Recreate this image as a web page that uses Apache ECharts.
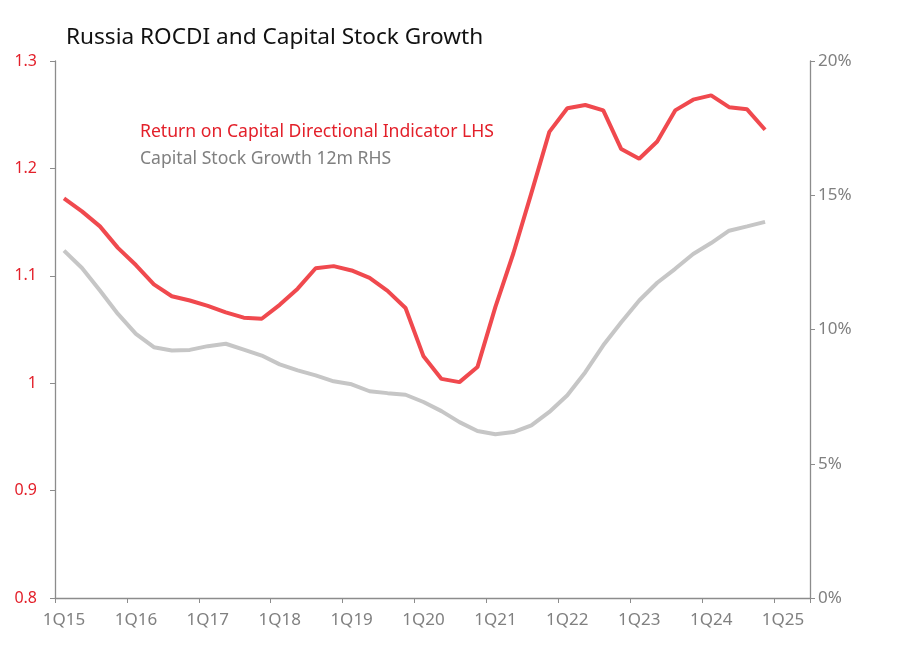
<!DOCTYPE html>
<html>
<head>
<meta charset="utf-8">
<script src="https://cdn.jsdelivr.net/npm/echarts@6/dist/echarts.min.js"></script>
<style>
html,body{margin:0;padding:0;background:#fff;}
#chart{width:908px;height:658px;}
</style>
</head>
<body>
<div id="chart"></div>
<script>
// Quarterly categories 1Q15 .. 2Q25 (last two empty)
const categories = [];
for (let y = 15; y <= 25; y++) {
  for (let q = 1; q <= 4; q++) {
    if (y === 25 && q > 2) break;
    categories.push(q + 'Q' + y);
  }
}

const rocdi = [
  1.172, 1.160, 1.146, 1.126, 1.110, 1.092, 1.081, 1.077, 1.072, 1.066,
  1.061, 1.060, 1.073, 1.088, 1.107, 1.109, 1.105, 1.098, 1.086, 1.070,
  1.025, 1.004, 1.001, 1.015, 1.071, 1.121, 1.177, 1.234, 1.256, 1.259,
  1.254, 1.218, 1.209, 1.225, 1.254, 1.264, 1.268, 1.257, 1.255, 1.236
];

const capitalStock = [
  12.94, 12.29, 11.45, 10.58, 9.84, 9.34, 9.22, 9.24, 9.38, 9.47,
  9.25, 9.03, 8.70, 8.48, 8.29, 8.07, 7.96, 7.70, 7.63, 7.57,
  7.30, 6.96, 6.55, 6.22, 6.10, 6.18, 6.43, 6.93, 7.55, 8.41,
  9.41, 10.27, 11.08, 11.74, 12.26, 12.81, 13.22, 13.68, 13.84, 14.01
];

const titleText = 'Russia ROCDI and Capital Stock Growth';
const legendRed = 'Return on Capital Directional Indicator LHS';
const legendGray = 'Capital Stock Growth 12m RHS';

const FONT = 'Noto Sans';
const AXIS_COLOR = '#8c8c8c';
const RED_TEXT = '#e3202a';
const GRAY_TEXT = '#808080';

const chart = echarts.init(document.getElementById('chart'));
chart.setOption({
  backgroundColor: '#fff',
  animation: false,
  textStyle: { fontFamily: FONT },
  title: {
    text: titleText,
    left: 61, top: 21,
    textStyle: { fontFamily: FONT, fontSize: 22.6, fontWeight: 'normal', color: '#111' }
  },
  graphic: [
    { type: 'text', left: 140, top: 123,
      style: { text: legendRed, fill: RED_TEXT, font: '17.6px "Noto Sans"' } },
    { type: 'text', left: 140, top: 150,
      style: { text: legendGray, fill: GRAY_TEXT, font: '17.6px "Noto Sans"' } }
  ],
  grid: { left: 55, right: 98, top: 61, bottom: 60, containLabel: false },
  xAxis: {
    type: 'category',
    data: categories,
    boundaryGap: true,
    axisLine: { lineStyle: { color: AXIS_COLOR, width: 1.3 } },
    axisTick: { show: true, interval: 3, length: 5, lineStyle: { color: AXIS_COLOR } },
    axisLabel: { interval: 3, color: GRAY_TEXT, fontSize: 17, margin: 14, fontFamily: FONT },
    splitLine: { show: false }
  },
  yAxis: [
    {
      type: 'value', min: 0.8, max: 1.3, interval: 0.1, position: 'left',
      axisLine: { show: true, lineStyle: { color: AXIS_COLOR, width: 1.3 } },
      axisTick: { show: true, length: 5, lineStyle: { color: AXIS_COLOR } },
      axisLabel: { color: RED_TEXT, fontSize: 16, margin: 18, fontFamily: FONT,
        formatter: v => String(parseFloat(v.toFixed(1))) },
      splitLine: { show: false }
    },
    {
      type: 'value', min: 0, max: 20, interval: 5, position: 'right',
      axisLine: { show: true, lineStyle: { color: AXIS_COLOR, width: 1.3 } },
      axisTick: { show: true, length: 5, lineStyle: { color: AXIS_COLOR } },
      axisLabel: { color: GRAY_TEXT, fontSize: 17, margin: 8, fontFamily: FONT, formatter: '{value}%' },
      splitLine: { show: false }
    }
  ],
  series: [
    {
      name: legendGray, type: 'line', yAxisIndex: 1, data: capitalStock,
      symbol: 'none', lineStyle: { color: '#c6c6c6', width: 4 }, z: 2
    },
    {
      name: legendRed, type: 'line', yAxisIndex: 0, data: rocdi,
      symbol: 'none', lineStyle: { color: '#f0494e', width: 4 }, z: 3
    }
  ]
});
</script>
</body>
</html>
